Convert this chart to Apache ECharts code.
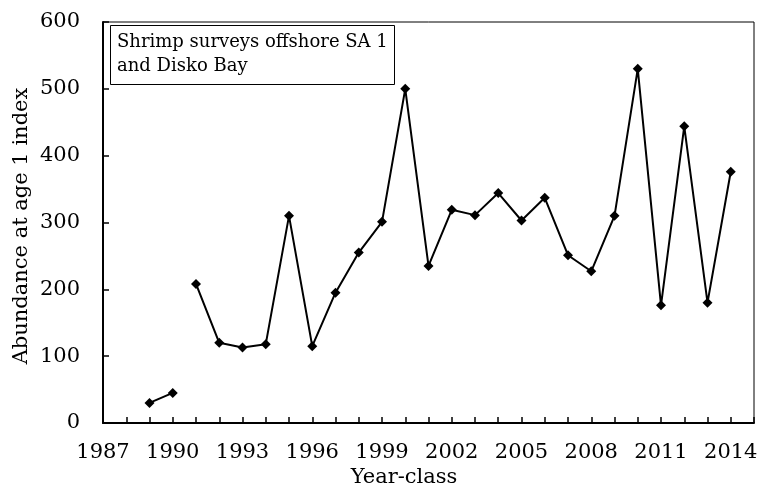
<!DOCTYPE html>
<html>
<head>
<meta charset="utf-8">
<script src="https://cdn.jsdelivr.net/npm/echarts@6/dist/echarts.min.js"></script>
<style>html,body{margin:0;padding:0;background:#fff}#c{width:761px;height:489px}</style>
</head>
<body>
<div id="c"></div>
<script>
const yearsA = [1989, 1990];
const valuesA = [30, 45];
const yearsB = [1991, 1992, 1993, 1994, 1995, 1996, 1997, 1998, 1999, 2000, 2001, 2002, 2003, 2004, 2005, 2006, 2007, 2008, 2009, 2010, 2011, 2012, 2013, 2014];
const valuesB = [208, 120, 113, 118, 310, 115, 195, 255, 301, 500, 235, 319, 311, 344, 303, 337, 251, 227, 310, 530, 176, 444, 180, 376];
const xTickLabels = [1987, 1990, 1993, 1996, 1999, 2002, 2005, 2008, 2011, 2014];
const yTickLabels = [0, 100, 200, 300, 400, 500, 600];
const boxText = 'Shrimp surveys offshore SA 1\nand Disko Bay';
const xTitle = 'Year-class';
const yTitle = 'Abundance at age 1 index';

const FONT = 'DejaVu Serif';
const chart = echarts.init(document.getElementById('c'), null, {renderer: 'canvas'});
const lineStyle = {color: '#000', width: 2};
const mk = {symbol: 'diamond', symbolSize: 10, itemStyle: {color: '#000'}, lineStyle: lineStyle, animation: false, type: 'line'};
chart.setOption({
  animation: false,
  grid: {left: 103, top: 22, right: 7, bottom: 66, show: true, borderColor: '#000', borderWidth: 1},
  xAxis: {
    type: 'value', min: 1987, max: 2015, interval: 1,
    axisLine: {lineStyle: {color: '#000', width: 2}},
    axisTick: {inside: true, length: 6, lineStyle: {color: '#000', width: 1.5}},
    splitLine: {show: false},
    axisLabel: {
      margin: 19, color: '#000', fontFamily: FONT, fontSize: 21,
      formatter: v => xTickLabels.indexOf(v) >= 0 ? String(v) : ''
    }
  },
  yAxis: {
    type: 'value', min: 0, max: 600, interval: 100,
    axisLine: {show: true, lineStyle: {color: '#000', width: 2}},
    axisTick: {show: true, inside: true, length: 6, lineStyle: {color: '#000', width: 1.5}},
    splitLine: {show: false},
    axisLabel: {
      margin: 23, color: '#000', fontFamily: FONT, fontSize: 21,
      formatter: v => yTickLabels.indexOf(v) >= 0 ? String(v) : ''
    }
  },
  series: [
    Object.assign({data: yearsA.map((y, i) => [y, valuesA[i]])}, mk),
    Object.assign({data: yearsB.map((y, i) => [y, valuesB[i]])}, mk)
  ],
  graphic: [
    {type: 'rect', shape: {x: 110.5, y: 25.5, width: 284, height: 59}, style: {fill: '#fff', stroke: '#000', lineWidth: 1}, z: 10},
    {type: 'text', x: 117, y: 30, style: {text: boxText, font: '18px "' + FONT + '"', fill: '#000', lineHeight: 24}, z: 11},
    {type: 'text', x: 404, y: 478, style: {text: xTitle, font: '21px "' + FONT + '"', fill: '#000', align: 'center', verticalAlign: 'middle'}, z: 11},
    {type: 'text', x: 22, y: 226, rotation: Math.PI / 2, style: {text: yTitle, font: '21px "' + FONT + '"', fill: '#000', align: 'center', verticalAlign: 'middle'}, z: 11}
  ]
});
</script>
</body>
</html>
